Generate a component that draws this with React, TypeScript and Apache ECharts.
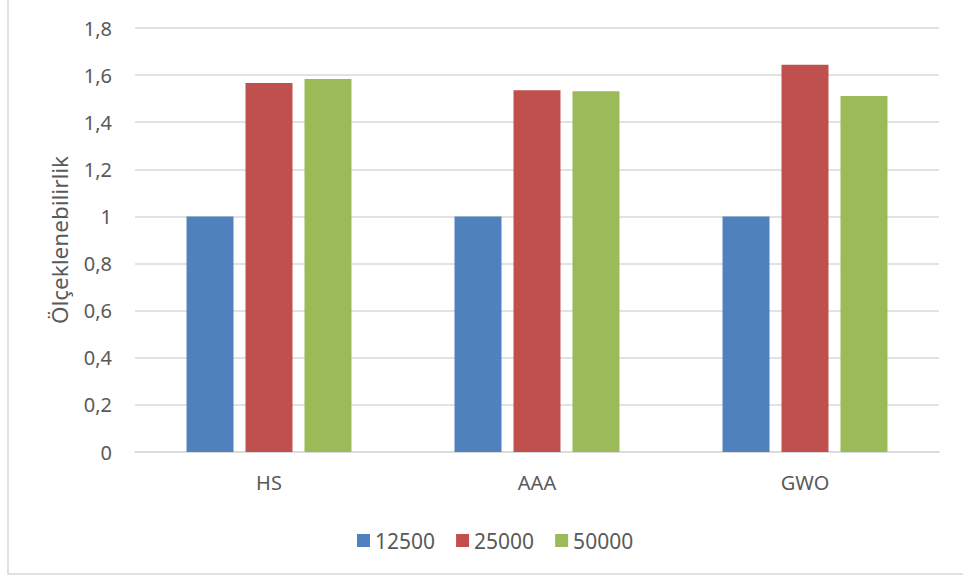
import React, { useEffect, useRef } from "react";
import * as echarts from "echarts";

const categories = ["HS", "AAA", "GWO"];
const seriesNames = ["12500", "25000", "50000"];
const values12500 = [1, 1, 1];
const values25000 = [1.567, 1.536, 1.644];
const values50000 = [1.583, 1.531, 1.511];
const colors = ["#4f81bd", "#c0504d", "#9bbb59"];

export default function App() {
  const ref = useRef<HTMLDivElement>(null);
  useEffect(() => {
    if (!ref.current) return;
    const chart = echarts.init(ref.current, null, { renderer: "svg" });
    const font = "'Noto Sans', 'Liberation Sans', sans-serif";
    const data = [values12500, values25000, values50000];
    chart.setOption({
      animation: false,
      backgroundColor: "#ffffff",
      textStyle: { fontFamily: font },
      graphic: [
        {
          type: "rect",
          shape: { x: 8, y: -10, width: 1000, height: 584 },
          style: { fill: "none", stroke: "#d9d9d9", lineWidth: 1.5 },
          silent: true,
        },
      ],
      grid: { left: 135, right: 24, top: 28, bottom: 127 },
      legend: {
        left: 352,
        top: 525,
        itemWidth: 13,
        itemHeight: 13,
        itemGap: 21,
        icon: "rect",
        textStyle: { fontSize: 21, color: "#595959", fontFamily: font, padding: [0, 0, 0, 0] },
        data: seriesNames,
      },
      xAxis: {
        type: "category",
        data: categories,
        axisLine: { lineStyle: { color: "#d9d9d9", width: 1.5 } },
        axisTick: { show: false },
        axisLabel: { fontSize: 20, color: "#595959", margin: 20, fontFamily: font },
      },
      yAxis: {
        type: "value",
        min: 0,
        max: 1.8,
        interval: 0.2,
        name: "Ölçeklenebilirlik",
        nameLocation: "middle",
        nameGap: 64,
        nameTextStyle: { fontSize: 22.5, color: "#595959", fontFamily: font },
        axisLine: { show: false },
        axisTick: { show: false },
        splitLine: { lineStyle: { color: "#d9d9d9", width: 1.5 } },
        axisLabel: {
          fontSize: 20,
          color: "#595959",
          margin: 23,
          fontFamily: font,
          formatter: (v: number) => {
            const r = Math.round(v * 10) / 10;
            return String(r).replace(".", ",");
          },
        },
      },
      series: seriesNames.map((n, i) => ({
        name: n,
        type: "bar",
        data: data[i],
        barWidth: 47,
        barGap: "25.5%",
        itemStyle: { color: colors[i] },
      })),
    });
    return () => chart.dispose();
  }, []);
  return (
    <div
      ref={ref}
      style={{ position: "fixed", left: 0, top: 0, width: 963, height: 579 }}
    />
  );
}
